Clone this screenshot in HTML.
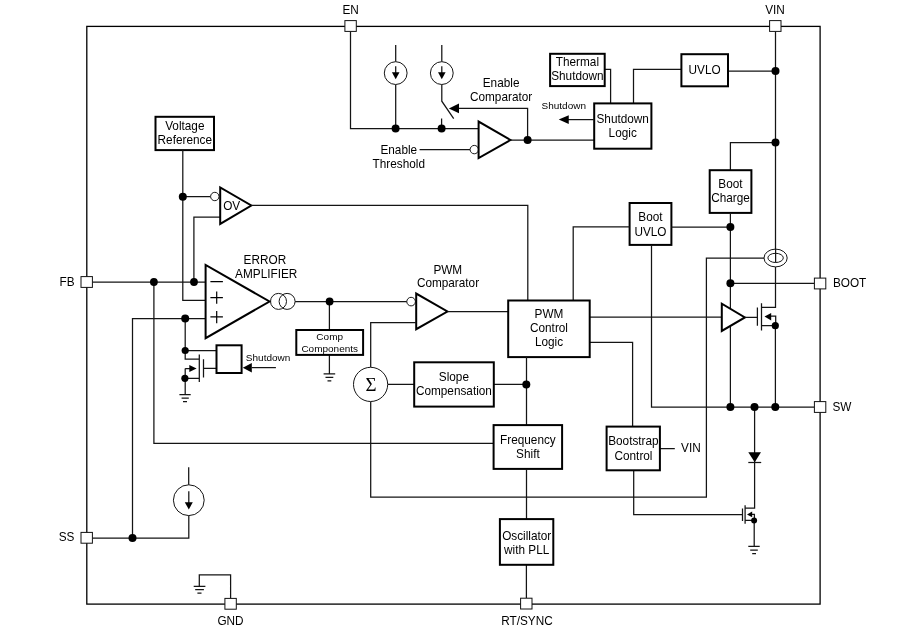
<!DOCTYPE html>
<html><head><meta charset="utf-8"><style>
html,body{margin:0;padding:0;background:#fff;width:900px;height:638px;overflow:hidden}
svg{display:block;will-change:transform}
.w{stroke:#141414;stroke-width:1.25;fill:none}
.b{stroke:#000;stroke-width:2;fill:#fff}
.tr{stroke:#000;stroke-width:2;fill:#fff;stroke-linejoin:miter}
.c{stroke:#141414;stroke-width:1;fill:#fff}
.p{stroke:#111;stroke-width:1;fill:#fff}
.d{fill:#000}
text{font-family:"Liberation Sans",sans-serif;font-size:11.8px;fill:#000;text-anchor:middle;transform-box:fill-box;transform-origin:50% 81%;transform:scaleY(1.045)}
.s{font-size:10px;transform:scaleY(0.965)}
.l{text-anchor:start}
.r{text-anchor:end}
</style></head><body>
<svg width="900" height="638" viewBox="0 0 900 638">
<!-- outer border -->
<rect x="86.8" y="26.4" width="733.3" height="577.7" fill="none" stroke="#000" stroke-width="1.3"/>

<!-- ========== EN section ========== -->
<path class="w" d="M350.5 31.5V128.7H478.6"/>
<path class="w" d="M395.7 45V61.8M395.7 84.4V128.6"/>
<circle class="c" cx="395.7" cy="73.1" r="11.4"/>
<path class="w" d="M395.7 66.2V73"/><path class="d" d="M391.9 72.2H399.5L395.7 79.3Z"/>
<path class="w" d="M441.8 45V61.8M441.8 84.4V101.2L453.7 118.6M441.6 118.4V128.6"/>
<circle class="c" cx="441.8" cy="73.1" r="11.4"/>
<path class="w" d="M441.8 66.2V73"/><path class="d" d="M438 72.2H445.6L441.8 79.3Z"/>
<path class="w" d="M527.6 140V108.4H458"/><path class="d" d="M448.9 108.4L459 103.5V113.2Z"/>
<path class="w" d="M419.6 149.6H470"/><circle class="c" cx="474.3" cy="149.6" r="4.2"/>
<path class="tr" d="M478.6 121.6V158L510.4 140Z"/>
<path class="w" d="M510.4 140.2H594.2"/>
<text x="501.1" y="86.75">Enable</text><text x="501.1" y="100.6">Comparator</text>
<text x="398.8" y="154">Enable</text><text x="398.8" y="167.6">Threshold</text>

<!-- ========== Thermal / Shutdown / UVLO ========== -->
<path class="w" d="M604.7 69.4H610.6V103.4M681.4 69.3H633.5V103.4M728 71H775.4"/>
<rect class="b" x="550.1" y="53.8" width="54.6" height="32.3"/>
<text x="577.4" y="66.2">Thermal</text><text x="577.4" y="79.7">Shutdown</text>
<rect class="b" x="594.2" y="103.4" width="57.2" height="45.3"/>
<text x="622.7" y="122.7">Shutdown</text><text x="622.7" y="137.2">Logic</text>
<rect class="b" x="681.4" y="54.2" width="46.6" height="32.1"/>
<text x="704.6" y="73.9">UVLO</text>
<path class="w" d="M594.2 119.6H568"/><path class="d" d="M558.75 119.5L568.75 115.2V123.9Z"/>
<text class="s" x="563.75" y="108.75">Shutdown</text>

<!-- ========== VIN / Boot ========== -->
<path class="w" d="M775.5 31.5V307.3H761.5"/>
<path class="w" d="M775.5 142.5H730.4V170.2"/>
<rect class="b" x="709.7" y="170.2" width="41.7" height="42.7"/>
<text x="730.5" y="187.9">Boot</text><text x="730.5" y="202.45">Charge</text>
<path class="w" d="M730.4 212.9V407"/>
<path class="w" d="M730.4 283.3H814.3"/>
<rect class="b" x="629.6" y="203" width="41.8" height="41.9"/>
<text x="650.5" y="220.6">Boot</text><text x="650.5" y="235.7">UVLO</text>
<path class="w" d="M629.6 226.8H573.2V300.5M671.4 227H730.4M651.5 244.9V407H814.3"/>
<!-- current sense -->
<path class="w" d="M764 258.1H706.4V497H370.7V401.5"/>
<ellipse class="c" cx="775.6" cy="258" rx="11.6" ry="8.9"/>
<ellipse class="c" cx="775.6" cy="257.9" rx="7.7" ry="4.6"/>
<path class="w" d="M775.6 249V262.5"/>

<!-- driver + high side fet -->
<path class="w" d="M589.7 317.2H721.8"/>
<path class="tr" d="M721.8 303.7V330.9L744.9 317.4Z"/>
<path class="w" d="M744.9 317.4H757.4M757.4 307.4V325.7M761.5 303.2V330.6M761.5 325.7H775.5M771 316.2H775.7V325.7M775.4 325.7V407"/>
<path class="d" d="M764.5 316.5L771.2 312.9V320.4Z"/>

<!-- diode + low side fet -->
<path class="w" d="M754.6 407V508.2H745.1"/>
<path class="d" d="M748.3 452.3H761L754.7 462.2Z"/>
<path class="w" d="M748.3 462.5H761.2"/>
<path class="w" d="M745.1 505.2V523.7M742.5 508.5V521M751.7 514.3H754.4V520.4M745.1 520.4H754.2M754.2 520.4V546.4"/>
<path class="d" d="M747 514.4L752.2 511.5V517.3Z"/>
<path class="w" d="M748.3 546.4H759.7M750.2 550H757.8M752.2 553.5H756"/>

<!-- bootstrap control -->
<path class="w" d="M589.7 342.3H632.6V426.6M659.9 448.5H674.8M633.7 470.3V514.6H742.5"/>
<rect class="b" x="606.6" y="426.6" width="53.3" height="43.7"/>
<text x="633.4" y="444.9">Bootstrap</text><text x="633.5" y="459.6">Control</text>
<text class="l" x="681.1" y="451.8">VIN</text>

<!-- ========== Vref / OV / EA ========== -->
<rect class="b" x="155.5" y="116.8" width="58.5" height="33.3"/>
<text x="184.8" y="129.8">Voltage</text><text x="184.8" y="143.6">Reference</text>
<path class="w" d="M182.8 149.9V300.3H205.6M182.8 196.7H210.6M220.2 217H193.9V282"/>
<circle class="c" cx="214.8" cy="196.5" r="4.2"/>
<path class="tr" d="M220.2 187.4V223.9L251.3 205.5Z"/>
<g transform="translate(231.7 209.6) scale(1 1.075)"><text x="0" y="0">OV</text></g>
<path class="w" d="M251.3 205.4H527.8V300.5"/>

<path class="w" d="M92.5 282H205.6M153.9 282V443.3H493.6"/>
<path class="w" d="M92.5 538H188.8V515.6M188.7 467.3V484.9M132.5 538V318.5H205.6"/>
<circle class="c" cx="188.8" cy="500.2" r="15.4"/>
<path class="w" d="M188.8 491.3V503"/><path class="d" d="M184.8 502.3H192.8L188.8 509.5Z"/>

<path class="tr" d="M205.6 264.9V338.2L269.5 301.5Z"/>
<path d="M210.4 281.6H222.9M210.4 297.6H222.9M216.7 291.5V303.7M210.4 316.9H222.9M216.7 310.9V323.2" stroke="#000" stroke-width="1.2" fill="none"/>
<text x="264.9" y="263.9">ERROR</text><text x="266.2" y="277.7">AMPLIFIER</text>
<circle class="c" cx="278.5" cy="301.4" r="8" style="fill:none"/>
<circle class="c" cx="287.1" cy="301.4" r="8" style="fill:none"/>
<path class="w" d="M295.1 301.5H407"/>
<path class="w" d="M329.4 301.5V330M329.4 354.9V373.8M323.6 373.8H335.2M325.5 377.3H333.3M327.5 380.8H331.3"/>
<rect class="b" x="296.3" y="330" width="66.8" height="24.9"/>
<text class="s" x="329.7" y="340.2">Comp</text><text class="s" x="329.7" y="352.2">Components</text>

<!-- EA shutdown fet -->
<path class="w" d="M185.2 318.5V359.1H199.3M185.2 350.5H216.5M199.3 354.4V381.9M203.5 359.2V377.6M203.5 368.3H216.5M185.2 368.5H190M185.2 368.5V378.3H199.3M185.2 378.3V394.6M179.4 394.6H190.7M181.6 398.2H188.8M183 401.7H187"/>
<path class="d" d="M196.6 368.5L189.3 364.9V372.1Z"/>
<rect class="b" x="216.5" y="345.3" width="25.1" height="27.7"/>
<path class="w" d="M251.8 367.6H275.9"/><path class="d" d="M242.8 367.8L251.8 363.1V372.5Z"/>
<text class="s" x="268.1" y="360.7">Shutdown</text>

<!-- ========== PWM comparator & logic ========== -->
<circle class="c" cx="411.1" cy="301.6" r="4.3"/>
<path class="tr" d="M416.2 293.6V329.2L447.4 311.5Z"/>
<text x="447.8" y="273.75">PWM</text><text x="448" y="287.5">Comparator</text>
<path class="w" d="M416.2 322.7H370.7V367.2M447.4 311.5H508.2"/>
<rect class="b" x="508.2" y="300.5" width="81.5" height="56.6"/>
<text x="549" y="317.7">PWM</text><text x="549" y="331.8">Control</text><text x="549" y="346.5">Logic</text>
<path class="w" d="M526.5 357.1V425.1M387.8 384.4H414.2M493.8 384.4H526.5"/>
<circle class="c" cx="370.6" cy="384.4" r="17.1"/>
<text x="371" y="391" style="font-family:'Liberation Serif',serif;font-size:19px">Σ</text>
<rect class="b" x="414.2" y="362.3" width="79.6" height="44.3"/>
<text x="453.9" y="380.8">Slope</text><text x="453.9" y="395.1">Compensation</text>
<rect class="b" x="493.6" y="425.1" width="68.5" height="43.8"/>
<text x="527.9" y="443.8">Frequency</text><text x="527.9" y="457.8">Shift</text>
<path class="w" d="M526.5 468.9V519.1M526.4 564.8V598"/>
<rect class="b" x="499.9" y="519.1" width="53.4" height="45.7"/>
<text x="526.7" y="539.9">Oscillator</text><text x="526.7" y="553.6">with PLL</text>

<!-- GND -->
<path class="w" d="M230.6 598V574.9H199.3V586.3M193.7 586.3H205.4M195.2 589.6H203.9M197.4 593H201.5"/>

<!-- dots -->
<circle class="d" cx="395.6" cy="128.6" r="4"/>
<circle class="d" cx="441.6" cy="128.6" r="4"/>
<circle class="d" cx="527.6" cy="140" r="4"/>
<circle class="d" cx="775.5" cy="71" r="4"/>
<circle class="d" cx="775.5" cy="142.5" r="4"/>
<circle class="d" cx="730.4" cy="226.9" r="4"/>
<circle class="d" cx="730.4" cy="283.3" r="4"/>
<circle class="d" cx="775.3" cy="325.7" r="3.6"/>
<circle class="d" cx="730.4" cy="407" r="4"/>
<circle class="d" cx="754.5" cy="407" r="4"/>
<circle class="d" cx="775.3" cy="407" r="4"/>
<circle class="d" cx="754.1" cy="520.6" r="3"/>
<circle class="d" cx="182.8" cy="196.7" r="4"/>
<circle class="d" cx="153.9" cy="282" r="3.9"/>
<circle class="d" cx="194" cy="282" r="3.9"/>
<circle class="d" cx="132.5" cy="538" r="4"/>
<circle class="d" cx="329.6" cy="301.5" r="3.9"/>
<circle class="d" cx="185.2" cy="318.5" r="4"/>
<circle class="d" cx="185.2" cy="350.5" r="3.6"/>
<circle class="d" cx="184.9" cy="378.3" r="3.6"/>
<circle class="d" cx="526.3" cy="384.4" r="4"/>
<!-- pins -->
<rect class="p" x="344.9" y="20.6" width="11.4" height="10.8"/>
<rect class="p" x="769.6" y="20.6" width="11.4" height="10.8"/>
<rect class="p" x="81" y="276.6" width="11.4" height="10.8"/>
<rect class="p" x="814.4" y="278.1" width="11.4" height="10.8"/>
<rect class="p" x="814.4" y="401.6" width="11.4" height="10.8"/>
<rect class="p" x="81" y="532.4" width="11.4" height="10.8"/>
<rect class="p" x="224.9" y="598.4" width="11.4" height="10.8"/>
<rect class="p" x="520.6" y="598.2" width="11.4" height="10.8"/>
<text x="350.7" y="13.8">EN</text>
<text x="775" y="13.8">VIN</text>
<text class="r" x="74.6" y="286">FB</text>
<text class="l" x="832.9" y="287.1">BOOT</text>
<text class="l" x="832.5" y="410.8">SW</text>
<text class="r" x="74.4" y="540.7">SS</text>
<text x="230.5" y="625.1">GND</text>
<text x="527" y="625.1">RT/SYNC</text>
</svg>
</body></html>
